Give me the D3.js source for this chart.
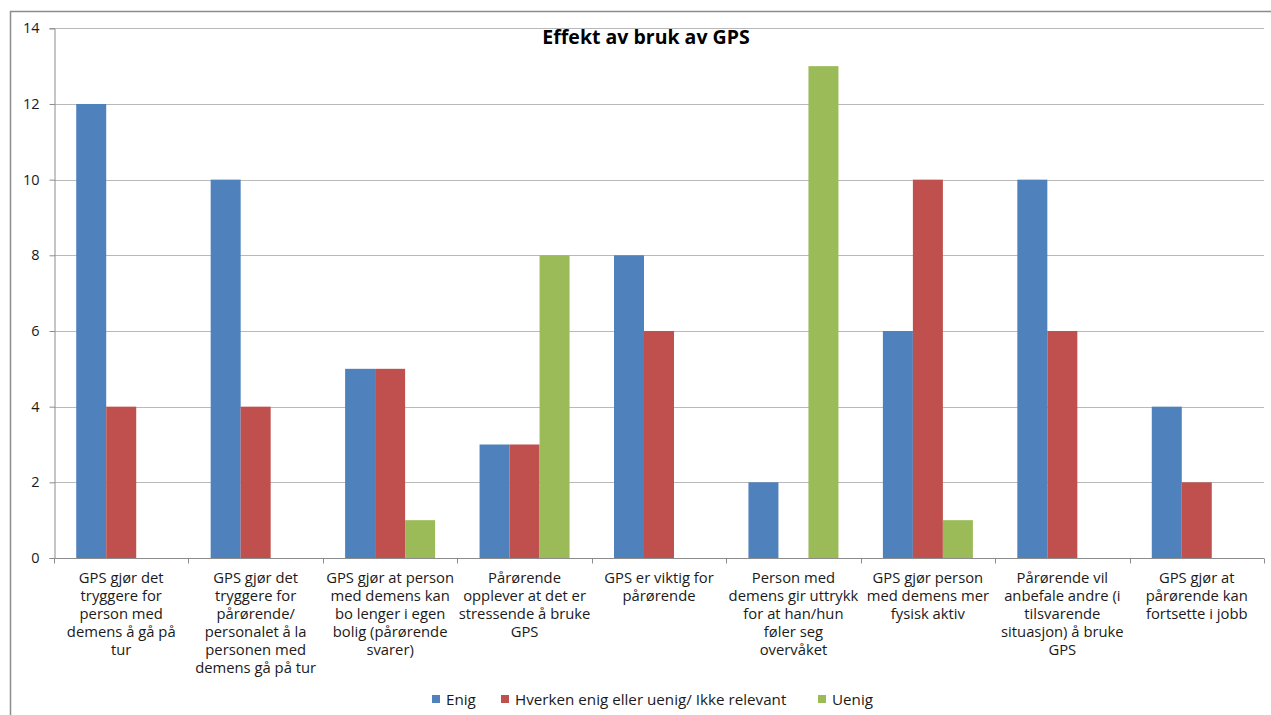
<!DOCTYPE html>
<html>
<head>
<meta charset="utf-8">
<script src="https://cdn.jsdelivr.net/npm/d3@7"></script>
<style>
  html, body { margin: 0; padding: 0; background: #fff; }
  svg { display: block; font-family: "Open Sans", sans-serif; }
</style>
</head>
<body>
<svg id="chart" width="1271" height="715"></svg>
<script>
// Survey answers: effect of GPS use (number of respondents)
const categories = [
  "GPS gjør det\ntryggere for\nperson med\ndemens å gå på\ntur",
  "GPS gjør det\ntryggere for\npårørende/\npersonalet å la\npersonen med\ndemens gå på tur",
  "GPS gjør at person\nmed demens kan\nbo lenger i egen\nbolig (pårørende\nsvarer)",
  "Pårørende\nopplever at det er\nstressende å bruke\nGPS",
  "GPS er viktig for\npårørende",
  "Person med\ndemens gir uttrykk\nfor at han/hun\nføler seg\novervåket",
  "GPS gjør person\nmed demens mer\nfysisk aktiv",
  "Pårørende vil\nanbefale andre (i\ntilsvarende\nsituasjon) å bruke\nGPS",
  "GPS gjør at\npårørende kan\nfortsette i jobb"
];
const seriesNames = ["Enig", "Hverken enig eller uenig/ Ikke relevant", "Uenig"];
const enig    = [12, 10, 5, 3, 8, 2, 6, 10, 4];
const hverken = [4, 4, 5, 3, 6, 0, 10, 6, 2];
const uenig   = [0, 0, 1, 8, 0, 13, 1, 0, 0];
const yTicks  = [0, 2, 4, 6, 8, 10, 12, 14];
const colors  = ["#4F81BD", "#C0504D", "#9BBB59"];
const title   = "Effekt av bruk av GPS";

const series = [enig, hverken, uenig];
const svg = d3.select("#chart");

// outer chart frame
svg.append("path")
  .attr("d", "M10.5,715 V11.5 H1271")
  .attr("fill", "none").attr("stroke", "#8c8c8c").attr("stroke-width", 1.5);

const plot = { left: 54, right: 1264, top: 28.3, bottom: 558 };

const x = d3.scaleBand().domain(d3.range(categories.length))
  .range([plot.left, plot.right]).paddingInner(0).paddingOuter(0);
const groupW = 90;
const xs = d3.scaleBand().domain(d3.range(series.length))
  .range([0, groupW]);
const y = d3.scaleLinear().domain([0, 14]).range([plot.bottom, plot.top]);

// horizontal gridlines
svg.append("g").selectAll("line").data(yTicks.filter(d => d > 0)).join("line")
  .attr("x1", plot.left).attr("x2", plot.right)
  .attr("y1", d => Math.round(y(d)) + 0.5).attr("y2", d => Math.round(y(d)) + 0.5)
  .attr("stroke", "#b9b9b9").attr("stroke-width", 1);

// bars
const bars = svg.append("g");
series.forEach((vals, si) => {
  bars.selectAll(null).data(vals).join("rect")
    .attr("x", (d, i) => x(i) + (x.bandwidth() - groupW) / 2 + xs(si))
    .attr("width", xs.bandwidth())
    .attr("y", d => y(d))
    .attr("height", d => y(0) - y(d))
    .attr("fill", colors[si]);
});

// y axis
const yAxis = d3.axisLeft(y).tickValues(yTicks).tickSize(5).tickPadding(10)
  .tickFormat(d3.format("d"));
const yg = svg.append("g").attr("transform", `translate(${plot.left + 0.5},0)`).call(yAxis);
yg.select(".domain").attr("stroke", "#8c8c8c");
yg.selectAll(".tick line").attr("stroke", "#8c8c8c");
yg.selectAll(".tick text").attr("font-size", 14.5).attr("fill", "#1a1a1a")
  .attr("font-family", "Open Sans, sans-serif");

// x axis with ticks at category boundaries
const xg = svg.append("g").attr("transform", `translate(0,${Math.round(plot.bottom) + 0.5})`);
xg.append("line").attr("x1", plot.left).attr("x2", plot.right)
  .attr("stroke", "#8c8c8c");
xg.selectAll("line.tk").data(d3.range(categories.length + 1)).join("line")
  .attr("class", "tk")
  .attr("x1", i => Math.round(plot.left + i * x.bandwidth()) + 0.5)
  .attr("x2", i => Math.round(plot.left + i * x.bandwidth()) + 0.5)
  .attr("y1", 0).attr("y2", 5).attr("stroke", "#8c8c8c");

// category labels
const lab = svg.append("g");
categories.forEach((c, i) => {
  const t = lab.append("text")
    .attr("x", x(i) + x.bandwidth() / 2)
    .attr("y", 583)
    .attr("text-anchor", "middle")
    .attr("font-size", 14.8).attr("fill", "#1a1a1a");
  c.split("\n").forEach((line, k) => {
    t.append("tspan").attr("x", x(i) + x.bandwidth() / 2)
      .attr("dy", k === 0 ? 0 : 18).text(line);
  });
});

// title
svg.append("text").attr("x", 646).attr("y", 44)
  .attr("text-anchor", "middle").attr("font-weight", "bold")
  .attr("font-size", 19.5).attr("fill", "#000").text(title);

// legend
const legendX = [432, 501, 818];
const lg = svg.append("g");
seriesNames.forEach((name, i) => {
  lg.append("rect").attr("x", legendX[i]).attr("y", 695)
    .attr("width", 8).attr("height", 8).attr("fill", colors[i]);
  lg.append("text").attr("x", legendX[i] + 14).attr("y", 704.5)
    .attr("font-size", 15.2).attr("fill", "#1a1a1a").text(name);
});
</script>
</body>
</html>
